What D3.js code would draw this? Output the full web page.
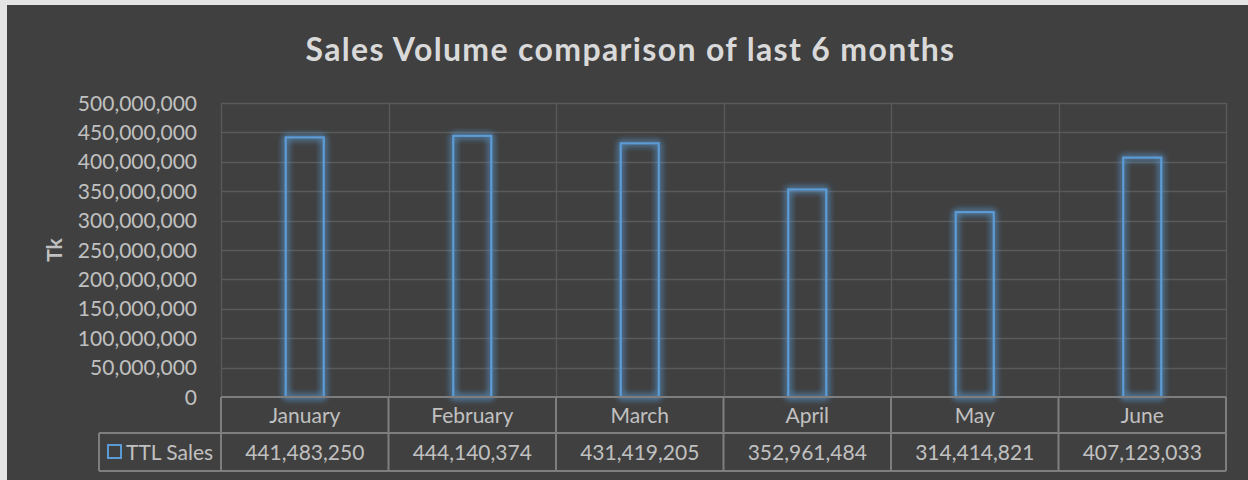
<!DOCTYPE html>
<html><head><meta charset="utf-8">
<script src="https://cdn.jsdelivr.net/npm/d3@7"></script>
<style>
html,body{margin:0;padding:0;background:#e4e4e4;}
svg{display:block;}
</style></head>
<body>
<svg id="chart" width="1248" height="480"></svg>
<script>
const categories = ["January","February","March","April","May","June"];
const seriesName = "TTL Sales";
const salesValues = [441483250, 444140374, 431419205, 352961484, 314414821, 407123033];
const yTicks = [0,50000000,100000000,150000000,200000000,250000000,300000000,350000000,400000000,450000000,500000000];
const titleText = "Sales Volume comparison of last 6 months";
const yAxisTitle = "Tk";

const W = 1248, H = 480;
const svg = d3.select("#chart");
const font = "Lato, 'Open Sans', sans-serif";
const gridColor = "#5a5a5a", tableColor = "#7e7e7e", textColor = "#c0c0c0", barColor = "#5b9bd5";

// chart background
svg.append("rect").attr("x",7).attr("y",5).attr("width",W).attr("height",H).attr("fill","#404040");

const plot = {left:221, right:1226, top:103, bottom:397};
const tableRow1 = 433, tableRow2 = 471, legendLeft = 99;

const x = d3.scaleBand().domain(categories).range([plot.left, plot.right])
  .paddingInner(0.761).paddingOuter(0.3805);
const xCols = d3.scaleBand().domain(categories).range([plot.left, plot.right]).padding(0);
const y = d3.scaleLinear().domain([0, 500000000]).range([plot.bottom, plot.top]);
const fmt = d3.format(",");

// glow filter
const defs = svg.append("defs");
const f = defs.append("filter").attr("id","glow").attr("x","-50%").attr("y","-20%").attr("width","200%").attr("height","140%");
f.append("feGaussianBlur").attr("in","SourceGraphic").attr("stdDeviation",3.5).attr("result","b");
const m = f.append("feMerge");
m.append("feMergeNode").attr("in","b");
m.append("feMergeNode").attr("in","b");
m.append("feMergeNode").attr("in","SourceGraphic");

// horizontal gridlines
svg.append("g").selectAll("line").data(yTicks.filter(d=>d>0)).join("line")
  .attr("x1",plot.left).attr("x2",plot.right)
  .attr("y1",d=>Math.round(y(d))+0.5).attr("y2",d=>Math.round(y(d))+0.5)
  .attr("stroke",gridColor).attr("stroke-width",1.3);

// vertical category gridlines in plot area
const colEdges = categories.map(c=>xCols(c)).concat([plot.right]);
svg.append("g").selectAll("line").data(colEdges).join("line")
  .attr("x1",d=>Math.round(d)+0.5).attr("x2",d=>Math.round(d)+0.5)
  .attr("y1",plot.top).attr("y2",plot.bottom)
  .attr("stroke",gridColor).attr("stroke-width",1.3);

// y tick labels
svg.append("g").selectAll("text").data(yTicks).join("text")
  .attr("x",197).attr("y",d=>y(d)).attr("dy","0.36em")
  .attr("text-anchor","end").attr("fill",textColor)
  .attr("font-family",font).attr("font-size",21)
  .text(d=>fmt(d));

// y axis title
svg.append("text").attr("transform","translate(62,250) rotate(-90)")
  .attr("text-anchor","middle").attr("fill",textColor)
  .attr("font-family",font).attr("font-size",21).attr("font-weight","bold")
  .text(yAxisTitle);

// bars
svg.append("g").selectAll("rect").data(salesValues).join("rect")
  .attr("x",(d,i)=>x(categories[i])+1)
  .attr("y",d=>y(d))
  .attr("width",x.bandwidth()-2)
  .attr("height",d=>plot.bottom-y(d))
  .attr("fill","none").attr("stroke",barColor).attr("stroke-width",2.2)
  .attr("filter","url(#glow)");

// data table lines
const tg = svg.append("g").attr("stroke",tableColor).attr("stroke-width",2).attr("fill","none");
tg.append("line").attr("x1",plot.left).attr("x2",plot.right).attr("y1",plot.bottom).attr("y2",plot.bottom);
tg.append("line").attr("x1",legendLeft).attr("x2",plot.right).attr("y1",tableRow1).attr("y2",tableRow1);
tg.append("line").attr("x1",legendLeft).attr("x2",plot.right).attr("y1",tableRow2).attr("y2",tableRow2);
tg.append("line").attr("x1",legendLeft).attr("x2",legendLeft).attr("y1",tableRow1).attr("y2",tableRow2);
tg.selectAll("line.col").data(colEdges).join("line").attr("class","col")
  .attr("x1",d=>d).attr("x2",d=>d).attr("y1",plot.bottom).attr("y2",tableRow2);

// category labels
svg.append("g").selectAll("text").data(categories).join("text")
  .attr("x",d=>xCols(d)+xCols.bandwidth()/2).attr("y",423)
  .attr("text-anchor","middle").attr("fill",textColor)
  .attr("font-family",font).attr("font-size",21).text(d=>d);

// values row
svg.append("g").selectAll("text").data(salesValues).join("text")
  .attr("x",(d,i)=>xCols(categories[i])+xCols.bandwidth()/2).attr("y",460)
  .attr("text-anchor","middle").attr("fill",textColor)
  .attr("font-family",font).attr("font-size",21).text(d=>fmt(d));

// legend key
svg.append("rect").attr("x",108).attr("y",445).attr("width",13).attr("height",13)
  .attr("fill","none").attr("stroke",barColor).attr("stroke-width",2);
svg.append("text").attr("x",126).attr("y",460).attr("fill",textColor)
  .attr("font-family",font).attr("font-size",21).text(seriesName);

// title
svg.append("text").attr("x",630.5).attr("y",61).attr("text-anchor","middle")
  .attr("fill","#d9d9d9").attr("font-family",font).attr("font-size",32).attr("font-weight","bold")
  .attr("letter-spacing","1.35px")
  .text(titleText);
</script>
</body></html>
